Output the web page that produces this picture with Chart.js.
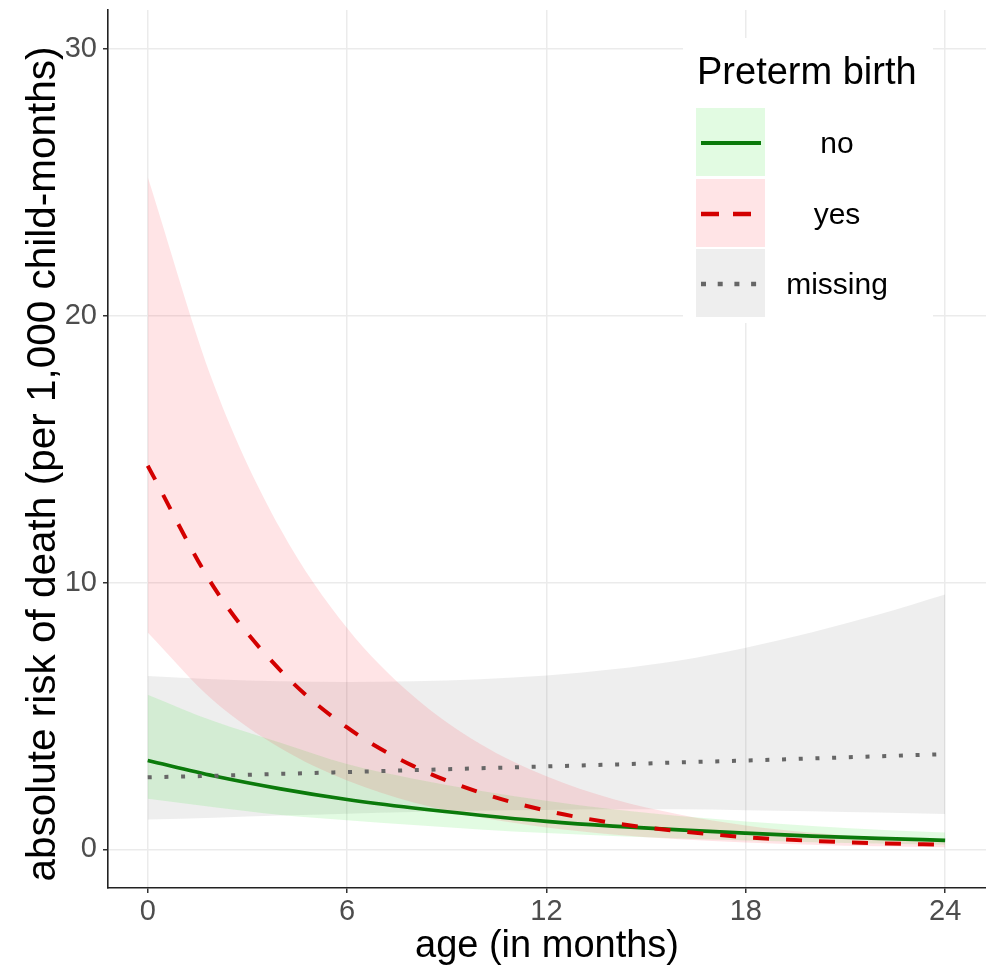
<!DOCTYPE html>
<html>
<head>
<meta charset="utf-8">
<script src="https://cdn.jsdelivr.net/npm/chart.js@4.4.1/dist/chart.umd.min.js"></script>
<style>
html,body{margin:0;padding:0;background:#fff;}
#wrap{width:986px;height:973px;position:relative;}
</style>
</head>
<body>
<div id="wrap"><canvas id="c" width="986" height="973"></canvas></div>
<script>
// ---------- data ----------
const months   = [0, 2, 4, 6, 8, 10, 12, 14, 16, 18, 20, 22, 24];

const noRisk   = [3.33, 2.75, 2.27, 1.87, 1.55, 1.28, 1.05, 0.87, 0.73, 0.61, 0.50, 0.41, 0.34];
const noUpper  = [5.80, 4.80, 4.00, 3.20, 2.65, 2.20, 1.82, 1.50, 1.25, 1.05, 0.88, 0.74, 0.63];
const noLower  = [1.90, 1.58, 1.29, 1.09, 0.91, 0.75, 0.61, 0.50, 0.41, 0.33, 0.27, 0.22, 0.17];

const yesRisk  = [14.38, 9.81, 6.70, 4.57, 3.12, 2.13, 1.45, 0.99, 0.68, 0.46, 0.32, 0.23, 0.17];
const yesUpper = [25.2, 17.4, 12.0, 8.30, 5.74, 3.96, 2.74, 1.89, 1.31, 0.90, 0.62, 0.43, 0.30];
const yesLower = [8.13, 5.55, 3.79, 2.58, 1.76, 1.20, 0.82, 0.56, 0.38, 0.26, 0.175, 0.115, 0.08];

const missRisk  = [2.70, 2.76, 2.83, 2.90, 2.97, 3.04, 3.11, 3.18, 3.26, 3.33, 3.41, 3.49, 3.57];
const missUpper = [6.50, 6.38, 6.30, 6.27, 6.30, 6.38, 6.52, 6.75, 7.08, 7.56, 8.14, 8.80, 9.55];
const missLower = [1.12, 1.19, 1.27, 1.34, 1.40, 1.45, 1.48, 1.50, 1.50, 1.47, 1.43, 1.38, 1.33];

const xTicks = [0, 6, 12, 18, 24];
const yTicks = [0, 10, 20, 30];

const xTitle = 'age (in months)';
const yTitle = 'absolute risk of death (per 1,000 child-months)';
const legendTitle = 'Preterm birth';
const groupNames = ['no', 'yes', 'missing'];

// ---------- styles ----------
const FONT = '"Liberation Sans", Arial, Helvetica, sans-serif';
const COL = {
  noLine: '#0b7a0b', yesLine: '#d30000', missLine: '#666666',
  noFill: 'rgba(60,225,60,0.15)', yesFill: 'rgba(255,30,50,0.12)', missFill: 'rgba(120,120,120,0.13)'
};
const DASH = { no: [], yes: [16, 17], missing: [4, 12.7] };

function pts(vals) { return months.map((m, i) => ({ x: m, y: vals[i] })); }

const common = { pointRadius: 0, pointHoverRadius: 0, cubicInterpolationMode: 'monotone' };

const datasets = [
  Object.assign({ label: 'missing', data: pts(missRisk), borderColor: COL.missLine, borderWidth: 4,
    borderDash: DASH.missing, borderCapStyle: 'butt', fill: false }, common),
  Object.assign({ label: 'yes', data: pts(yesRisk), borderColor: COL.yesLine, borderWidth: 4,
    borderDash: DASH.yes, borderCapStyle: 'butt', fill: false }, common),
  Object.assign({ label: 'no', data: pts(noRisk), borderColor: COL.noLine, borderWidth: 3.7, fill: false }, common),
  Object.assign({ label: 'yes upper', data: pts(yesUpper), borderColor: 'rgba(0,0,0,0)', borderWidth: 0,
    backgroundColor: COL.yesFill, fill: '+1' }, common),
  Object.assign({ label: 'yes lower', data: pts(yesLower), borderColor: 'rgba(0,0,0,0)', borderWidth: 0, fill: false }, common),
  Object.assign({ label: 'no upper', data: pts(noUpper), borderColor: 'rgba(0,0,0,0)', borderWidth: 0,
    backgroundColor: COL.noFill, fill: '+1' }, common),
  Object.assign({ label: 'no lower', data: pts(noLower), borderColor: 'rgba(0,0,0,0)', borderWidth: 0, fill: false }, common),
  Object.assign({ label: 'missing upper', data: pts(missUpper), borderColor: 'rgba(0,0,0,0)', borderWidth: 0,
    backgroundColor: COL.missFill, fill: '+1' }, common),
  Object.assign({ label: 'missing lower', data: pts(missLower), borderColor: 'rgba(0,0,0,0)', borderWidth: 0, fill: false }, common)
];

const decor = {
  id: 'decor',
  afterDraw(chart) {
    const ctx = chart.ctx, a = chart.chartArea;
    ctx.save();
    // axis titles
    ctx.fillStyle = '#000';
    ctx.font = '38px ' + FONT;
    ctx.textAlign = 'center';
    ctx.textBaseline = 'alphabetic';
    ctx.fillText(xTitle, (a.left + a.right) / 2, 957);
    ctx.save();
    ctx.translate(55, 464);
    ctx.rotate(-Math.PI / 2);
    ctx.font = '40.5px ' + FONT;
    ctx.fillText(yTitle, 0, 0);
    ctx.restore();

    // legend
    ctx.fillStyle = '#fff';
    ctx.fillRect(683, 38, 250, 285);
    ctx.fillStyle = '#000';
    ctx.textAlign = 'left';
    ctx.font = '38px ' + FONT;
    ctx.fillText(legendTitle, 697, 84);
    const tops = [108, 179, 249];
    const fills = [COL.noFill, COL.yesFill, COL.missFill];
    const lines = [COL.noLine, COL.yesLine, COL.missLine];
    const dashes = [[], [18, 14], [5, 11.7]];
    const widths = [4, 4.5, 4.5];
    groupNames.forEach((name, i) => {
      const t = tops[i];
      ctx.fillStyle = fills[i];
      ctx.fillRect(696, t, 69, 68);
      ctx.beginPath();
      ctx.setLineDash(dashes[i]);
      ctx.lineCap = 'butt';
      ctx.strokeStyle = lines[i];
      ctx.lineWidth = widths[i];
      ctx.moveTo(701, t + 35);
      ctx.lineTo(761, t + 35);
      ctx.stroke();
      ctx.setLineDash([]);
      ctx.fillStyle = '#000';
      ctx.textAlign = 'center';
      ctx.font = '30px ' + FONT;
      ctx.fillText(name, 837, t + 45);
    });
    ctx.restore();
  }
};

new Chart(document.getElementById('c'), {
  type: 'line',
  data: { datasets },
  options: {
    responsive: false,
    devicePixelRatio: 1,
    animation: false,
    layout: { padding: { top: 10, right: 0, left: 0, bottom: 0 } },
    plugins: { legend: { display: false }, tooltip: { enabled: false }, filler: { propagate: false } },
    scales: {
      x: {
        type: 'linear', min: -1.195, max: 25.23,
        afterBuildTicks: s => { s.ticks = xTicks.map(v => ({ value: v })); },
        afterFit: s => { s.height = 85; s.paddingLeft = 0; s.paddingRight = 0; },
        grid: { color: '#ebebeb', lineWidth: 1.5, drawTicks: true, tickLength: 5, tickColor: '#333', tickWidth: 1.5 },
        border: { display: true, color: '#222', width: 1.6 },
        ticks: { color: '#4d4d4d', font: { family: FONT, size: 29 }, padding: 2, maxRotation: 0, autoSkip: false,
          callback: v => String(v) }
      },
      y: {
        type: 'linear', min: -1.447, max: 31.46,
        afterBuildTicks: s => { s.ticks = yTicks.map(v => ({ value: v })); },
        afterFit: s => { s.width = 108; s.paddingTop = 0; s.paddingBottom = 0; },
        grid: { color: '#ebebeb', lineWidth: 1.5, drawTicks: true, tickLength: 5, tickColor: '#333', tickWidth: 1.5 },
        border: { display: true, color: '#222', width: 1.6 },
        ticks: { color: '#4d4d4d', font: { family: FONT, size: 29 }, padding: 6, autoSkip: false,
          callback: v => String(v) }
      }
    }
  },
  plugins: [decor]
});
</script>
</body>
</html>
